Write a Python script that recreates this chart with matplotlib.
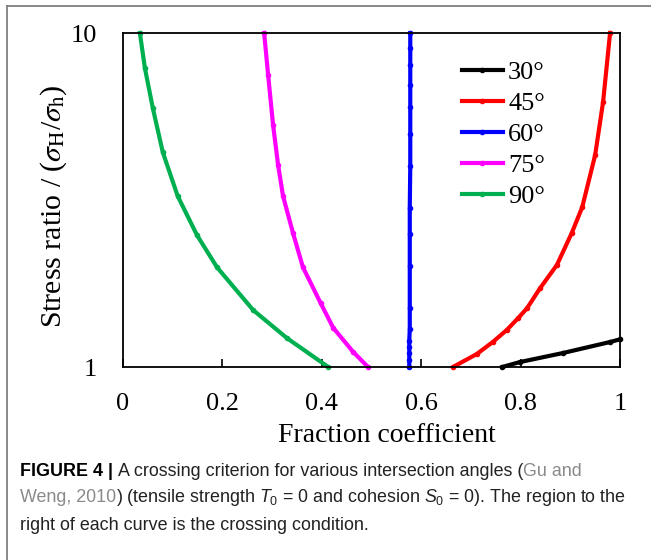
import matplotlib
matplotlib.use('Agg')
import matplotlib.pyplot as plt
from matplotlib.ticker import NullLocator

plt.rcParams['font.family'] = 'Liberation Serif'
plt.rcParams['mathtext.fontset'] = 'custom'
plt.rcParams['mathtext.rm'] = 'Liberation Sans'
plt.rcParams['mathtext.it'] = 'Liberation Sans:italic'

# values
x30 = [0.763, 0.799, 0.885, 0.980, 1.0]
y30 = [1.0, 1.035, 1.101, 1.188, 1.21]

x45 = [0.664, 0.712, 0.744, 0.772, 0.795, 0.813, 0.839, 0.873, 0.903, 0.924, 0.950, 0.966, 0.980]
y45 = [1.0, 1.094, 1.188, 1.29, 1.40, 1.50, 1.72, 2.02, 2.52, 3.01, 4.31, 6.22, 10.0]

x60 = [0.576, 0.576, 0.576, 0.576, 0.576, 0.577, 0.577, 0.577, 0.577, 0.577, 0.578, 0.578, 0.578, 0.578, 0.578, 0.578, 0.578]
y60 = [1.0, 1.05, 1.1, 1.15, 1.2, 1.3, 1.5, 2.0, 2.5, 3.0, 4.0, 5.0, 6.0, 7.0, 8.0, 9.0, 10.0]

x75 = [0.284, 0.292, 0.302, 0.312, 0.322, 0.342, 0.362, 0.398, 0.423, 0.463, 0.493]
y75 = [10.0, 7.49, 5.30, 4.03, 3.25, 2.52, 1.99, 1.55, 1.31, 1.11, 1.0]

x90 = [0.034, 0.044, 0.060, 0.080, 0.110, 0.149, 0.189, 0.262, 0.330, 0.413]
y90 = [10.0, 7.86, 5.96, 4.40, 3.25, 2.48, 1.99, 1.48, 1.22, 1.0]

labels = ['30°', '45°', '60°', '75°', '90°']
colors = ['#000000', '#ff0000', '#0000ff', '#ff00ff', '#00b050']
series = [(x30, y30), (x45, y45), (x60, y60), (x75, y75), (x90, y90)]

xticks = [0, 0.2, 0.4, 0.6, 0.8, 1]
xticklabels = ['0', '0.2', '0.4', '0.6', '0.8', '1']

W, H = 651, 560
fig = plt.figure(figsize=(W / 100, H / 100), dpi=100)

# outer frame of the figure panel (top + left edge only visible)
fig.add_artist(plt.Line2D([7 / W, 1], [1 - 6 / H, 1 - 6 / H], color='#808080', lw=1.3))
fig.add_artist(plt.Line2D([7 / W, 7 / W], [0, 1 - 6 / H], color='#808080', lw=1.3))

ax = fig.add_axes([123 / W, 1 - 367 / H, 497 / W, 334 / H])
for (xs, ys), lab, c in zip(series, labels, colors):
    ax.plot(xs, ys, color=c, lw=3, marker='o', ms=3, label=lab, clip_on=False)

ax.set_yscale('log')
ax.set_xlim(0, 1)
ax.set_ylim(1, 10)
ax.set_xticks(xticks)
ax.set_xticklabels(xticklabels)
ax.set_yticks([1, 10])
ax.set_yticklabels(['1', '10'])
ax.yaxis.set_minor_locator(NullLocator())
ax.tick_params(axis='x', direction='in', length=6, width=1.2, pad=19, labelsize=19)
ax.tick_params(axis='y', length=0, pad=18.5, labelsize=19)
for s in ax.spines.values():
    s.set_linewidth(1.3)

ax.set_xlabel('Fraction coefficient', fontsize=20)
ax.xaxis.set_label_coords(0.53, -0.168)
ax.set_ylabel('Stress ratio / ($\\sigma_\\mathrm{H}$/$\\sigma_\\mathrm{h}$)', fontsize=21.5,
              math_fontfamily='stix')
ax.yaxis.set_label_coords(-0.108, 0.482)

ax.legend(loc='upper left', bbox_to_anchor=(0.682, 0.918), frameon=False, fontsize=19,
          handlelength=1.55, handletextpad=0.2, labelspacing=0.29, borderpad=0, borderaxespad=0)

# caption built piece by piece (mixed weights / colours)
renderer = fig.canvas.get_renderer()
cap_size = 12.9
caption = [
    [('FIGURE 4 | ', 'bold', 'black'),
     ('A crossing criterion for various intersection angles (', 'normal', '#222222'),
     ('Gu and', 'normal', '#8a8a8a')],
    [('Weng, 2010', 'normal', '#8a8a8a'),
     (') (tensile strength $T_0$ = 0 and cohesion $S_0$ = 0). The region to the', 'normal', '#222222')],
    [('right of each curve is the crossing condition.', 'normal', '#222222')],
]
line_y = [471, 498, 525]
for row, yy in zip(caption, line_y):
    xx = 20
    for txt, wt, col in row:
        t = fig.text(xx / W, 1 - yy / H, txt, fontsize=cap_size, fontweight=wt, color=col,
                     family='Liberation Sans', va='center', ha='left', math_fontfamily='custom')
        xx += t.get_window_extent(renderer).width

fig.savefig('out.png', dpi=100)
